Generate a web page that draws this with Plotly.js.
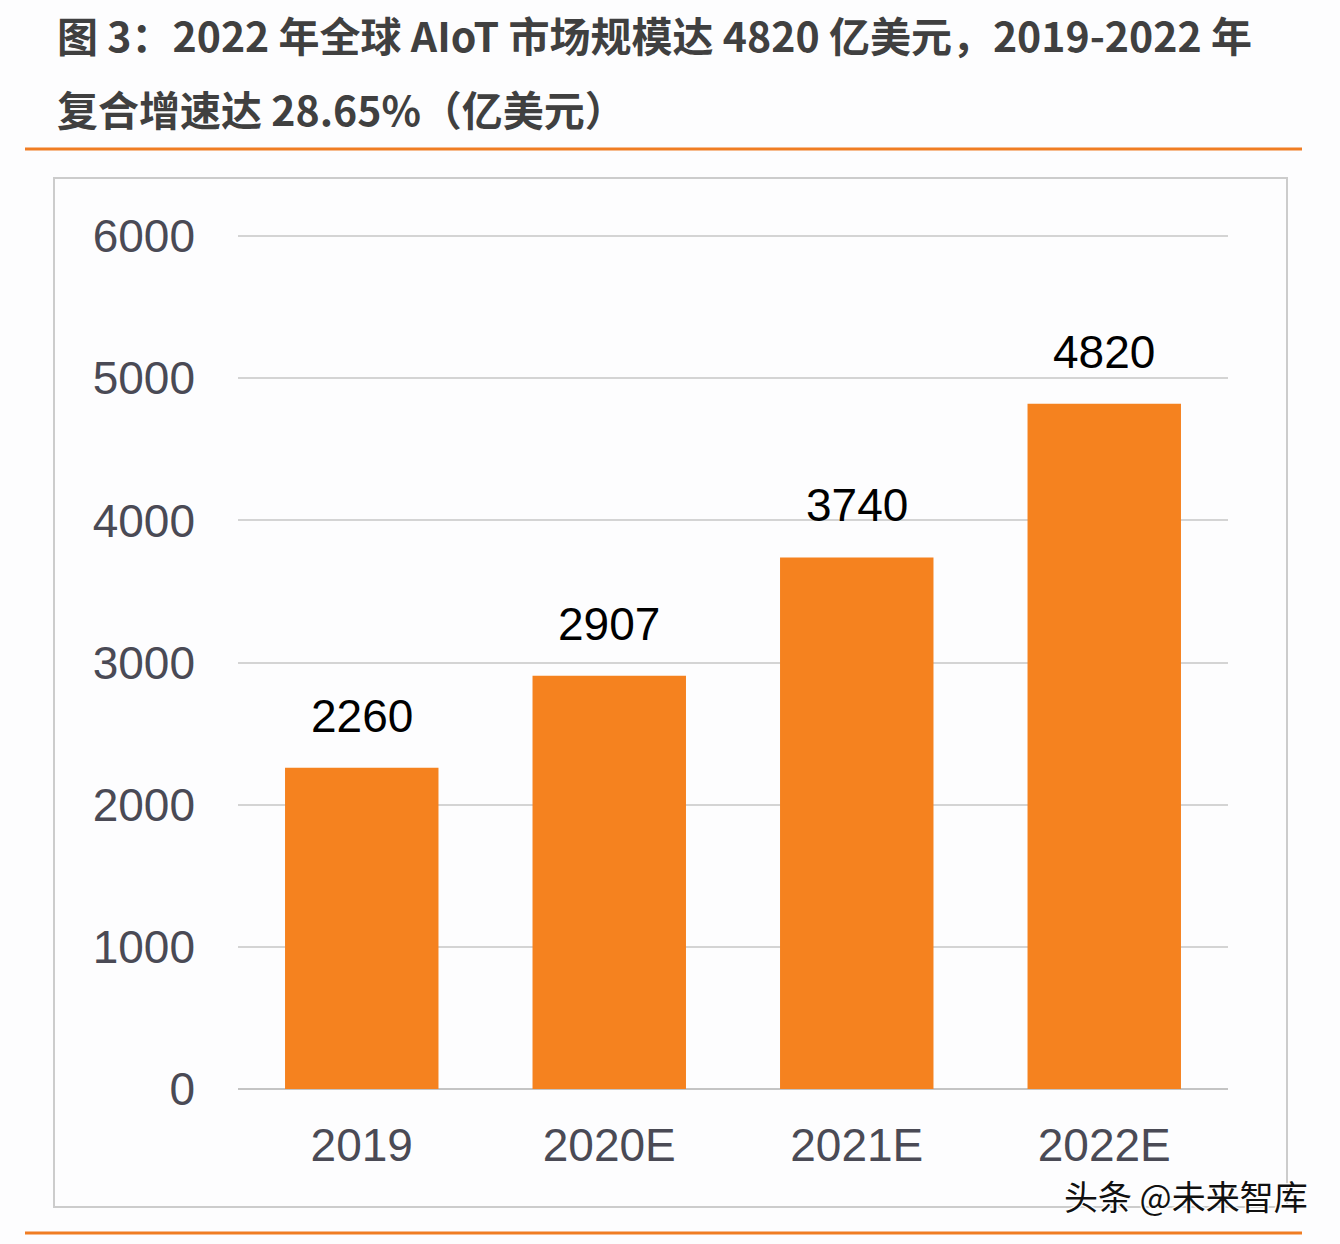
<!DOCTYPE html>
<html>
<head>
<meta charset="utf-8">
<script src="https://cdn.plot.ly/plotly-3.0.1.min.js"></script>
<style>
  body { margin: 0; background: #fdfdfe; }
  #chart { width: 1340px; height: 1244px; }
</style>
</head>
<body>
<div id="chart"></div>
<script>
var years = ['2019', '2020E', '2021E', '2022E'];
var market = [2260, 2907, 3740, 4820];
var yTicks = [0, 1000, 2000, 3000, 4000, 5000, 6000];

var W = 1340, H = 1244;
var L = 238, R = 112, T = 235, B = 155;
// pixel -> paper helpers for the page decoration
function px(x) { return (x - L) / (W - L - R); }
function py(y) { return (H - B - y) / (H - T - B); }

var orange = '#f5821f';

var data = [{
  type: 'bar',
  x: years,
  y: market,
  marker: {color: orange},
  hoverinfo: 'x+y'
}];

// value labels, placed by category index on the x axis
var labels = market.map(function (v, i) {
  return {
    x: i, y: v, xref: 'x', yref: 'y',
    text: String(v), showarrow: false,
    yanchor: 'bottom', yshift: 24,
    font: {family: 'Liberation Sans, Arial', size: 46, color: '#000'}
  };
});

var titleFont = {family: 'Noto Sans CJK SC', size: 41, color: '#404040', weight: 'bold'};

var annotations = labels.concat([
  {xref: 'paper', yref: 'paper', x: px(55), y: py(2), xanchor: 'left', yanchor: 'top',
   text: '图 3：2022 年全球 AIoT 市场规模达 4820 亿美元，2019-2022 年', showarrow: false, font: titleFont},
  {xref: 'paper', yref: 'paper', x: px(55), y: py(108), xanchor: 'left', yanchor: 'middle',
   text: '复合增速达 28.65%（亿美元）', showarrow: false, font: titleFont},
  {xref: 'paper', yref: 'paper', x: px(1310), y: py(1195), xanchor: 'right', yanchor: 'middle',
   text: '头条 @未来智库', showarrow: false,
   font: {family: 'Noto Sans CJK SC', size: 34, color: '#111',
          shadow: '1px 1px 1px #fff, -1px -1px 1px #fff, 1px -1px 1px #fff, -1px 1px 1px #fff'}}
]);

var shapes = [
  {type: 'line', xref: 'paper', yref: 'paper', x0: px(25), x1: px(1302), y0: py(149), y1: py(149),
   line: {color: '#f07d23', width: 3}},
  {type: 'line', xref: 'paper', yref: 'paper', x0: px(25), x1: px(1302), y0: py(1233), y1: py(1233),
   line: {color: '#f07d23', width: 3}},
  {type: 'rect', xref: 'paper', yref: 'paper', x0: px(54), x1: px(1287), y0: py(178), y1: py(1207),
   line: {color: '#cccccc', width: 2}, layer: 'below'}
];

var layout = {
  width: W, height: H,
  margin: {l: L, r: R, t: T, b: B},
  paper_bgcolor: '#fdfdfe',
  plot_bgcolor: '#fdfdfe',
  showlegend: false,
  bargap: 0.38,
  xaxis: {
    type: 'category',
    categoryorder: 'array',
    categoryarray: years,
    range: [-0.5, years.length - 0.5],
    showgrid: false,
    showline: false,
    ticks: '',
    ticklabelstandoff: 25,
    tickfont: {family: 'Liberation Sans, Arial', size: 46, color: '#4a4a55'}
  },
  yaxis: {
    range: [0, 6008],
    tickvals: yTicks,
    showgrid: true,
    gridcolor: '#d4d4d4',
    gridwidth: 2,
    zeroline: true,
    zerolinecolor: '#c4c4c4',
    zerolinewidth: 2,
    ticks: '',
    ticklabelstandoff: 42,
    tickfont: {family: 'Liberation Sans, Arial', size: 46, color: '#4a4a55'}
  },
  annotations: annotations,
  shapes: shapes
};

Plotly.newPlot('chart', data, layout, {displayModeBar: false});
</script>
</body>
</html>
